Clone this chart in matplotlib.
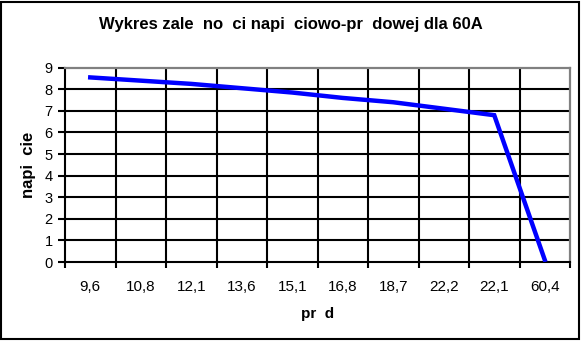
import matplotlib
matplotlib.use("Agg")
import matplotlib.pyplot as plt
from matplotlib.patches import Rectangle

categories = ["9,6", "10,8", "12,1", "13,6", "15,1", "16,8", "18,7", "22,2", "22,1", "60,4"]
voltage = [8.55, 8.4, 8.25, 8.05, 7.85, 7.6, 7.4, 7.1, 6.8, 0.1]
yticks = [0, 1, 2, 3, 4, 5, 6, 7, 8, 9]

title = "Wykres zale  no  ci napi  ciowo-pr  dowej dla 60A"
ylabel = "napi  cie"
xlabel = "pr  d"

plt.rcParams['font.family'] = ['Liberation Sans', 'DejaVu Sans']

W, H = 582, 341
fig = plt.figure(figsize=(W / 100, H / 100), dpi=100)
ax = fig.add_axes([65 / W, 1 - 262 / H, (570 - 65) / W, (262 - 67.7) / H])

x = list(range(len(categories)))
ax.set_xlim(-0.5, len(categories) - 0.5)
ax.set_ylim(0, 9)

for yv in yticks[1:-1]:
    ax.axhline(yv, color='black', lw=1.5, zorder=1)
for b in range(1, len(categories)):
    ax.axvline(b - 0.5, color='black', lw=1.5, zorder=1)

ax.plot(x, voltage, color='#0000ff', lw=3.2, zorder=3, solid_joinstyle='miter')

ax.set_yticks(yticks)
ax.set_yticklabels([str(v) for v in yticks], fontsize=10.5)
ax.set_xticks([i - 0.5 for i in range(len(categories) + 1)], minor=False)
ax.set_xticklabels([])
ax.set_xticks(x, minor=True)
ax.set_xticklabels(categories, minor=True, fontsize=11)
ax.tick_params(axis='x', which='minor', length=0, pad=13)
ax.tick_params(axis='x', which='major', length=4, width=1.5, direction='out', color='black')
ax.tick_params(axis='y', length=5, width=1.5, direction='out', color='black', pad=4)

for s in ['left', 'bottom']:
    ax.spines[s].set_color('black')
    ax.spines[s].set_linewidth(1.5)
for s in ['top', 'right']:
    ax.spines[s].set_color('#808080')
    ax.spines[s].set_linewidth(1.6)

ax.set_ylabel(ylabel, fontsize=12, fontweight='bold', labelpad=6)
ax.set_xlabel(xlabel, fontsize=11, fontweight='bold', labelpad=9)
fig.text(291 / W, 1 - 24 / H, title, ha='center', va='center', fontsize=12, fontweight='bold')

fig.patches.append(Rectangle((1 / W, 2.5 / H), 578 / W, 337 / H, transform=fig.transFigure,
                             fill=False, edgecolor='black', lw=1.5))

fig.savefig("out.png", dpi=100)
